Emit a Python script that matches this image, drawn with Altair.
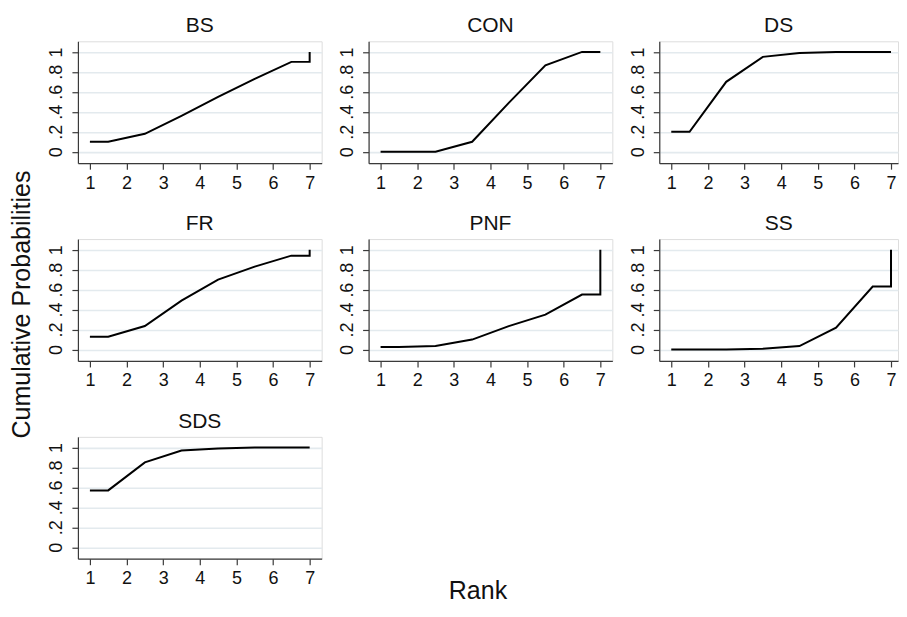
import altair as alt
import pandas as pd

# x positions of the plotted points (Stata-style cumulative rank plot)
RANKS = [1, 1.5, 2.5, 3.5, 4.5, 5.5, 6.5, 7, 7]

# cumulative probabilities
BS = [0.10, 0.10, 0.18, 0.36, 0.55, 0.73, 0.90, 0.90, 1.00]
CON = [0.00, 0.00, 0.00, 0.10, 0.49, 0.865, 1.00, 1.00, 1.00]
DS = [0.20, 0.20, 0.70, 0.95, 0.99, 1.00, 1.00, 1.00, 1.00]
FR = [0.128, 0.128, 0.235, 0.49, 0.70, 0.83, 0.94, 0.94, 1.00]
PNF = [0.025, 0.025, 0.035, 0.10, 0.235, 0.35, 0.55, 0.55, 1.00]
SS = [0.00, 0.00, 0.00, 0.007, 0.035, 0.22, 0.63, 0.63, 1.00]
SDS = [0.57, 0.57, 0.85, 0.97, 0.99, 1.00, 1.00, 1.00, 1.00]

TREATMENTS = ["BS", "CON", "DS", "FR", "PNF", "SS", "SDS"]
SERIES = [BS, CON, DS, FR, PNF, SS, SDS]

X_TICKS = [1, 2, 3, 4, 5, 6, 7]
Y_TICKS = [0, 0.2, 0.4, 0.6, 0.8, 1.0]

Y_TITLE = "Cumulative Probabilities"
X_TITLE = "Rank"

FONT = "Liberation Sans"
PX = 220 / 6          # pixels per rank unit
X0 = 1 - 12 / PX      # left end of x scale
H = 122
Y_DOMAIN = [-0.114, 1.106]
AXIS_COL = "#3a3a3a"
GRID_COL = "#e3eaee"


def panel(name, vals, width, ytitle=False, xtitle=False):
    df = pd.DataFrame({"rank": RANKS, "prob": vals, "order": list(range(len(RANKS)))})

    xkw = dict(values=X_TICKS, format="d", labelFontSize=18, labelFont=FONT,
               labelColor="#111111", labelPadding=5, labelAngle=0,
               tickSize=6, tickColor=AXIS_COL, tickWidth=1.2,
               domainColor=AXIS_COL, domainWidth=1.2, grid=False, title=None)
    if xtitle:
        xkw.update(title=X_TITLE, titleX=400, titleY=40, titleAlign="center",
                   titleBaseline="alphabetic", titleFontSize=25, titleFont=FONT,
                   titleFontWeight="normal", titleColor="#111111")

    ykw = dict(values=Y_TICKS,
               labelExpr="datum.value == 0 ? '0' : (datum.value == 1 ? '1' : '.' + format(datum.value * 10, '.0f'))",
               labelFontSize=18, labelFont=FONT, labelColor="#111111",
               labelAngle=270, labelAlign="center", labelBaseline="bottom",
               labelPadding=6, tickSize=6, tickColor=AXIS_COL, tickWidth=1.2,
               domainColor=AXIS_COL, domainWidth=1.2,
               grid=True, gridColor=GRID_COL, gridWidth=1.6, title=None)
    if ytitle:
        ykw.update(title=Y_TITLE, titleX=-48, titleY=65, titleAngle=270,
                   titleAlign="center", titleBaseline="alphabetic",
                   titleFontSize=25, titleFont=FONT, titleFontWeight="normal",
                   titleColor="#111111")

    line = alt.Chart(df).mark_line(color="black", strokeWidth=2).encode(
        x=alt.X("rank:Q", scale=alt.Scale(domain=[X0, X0 + width / PX], nice=False, zero=False),
                axis=alt.Axis(**xkw)),
        y=alt.Y("prob:Q", scale=alt.Scale(domain=Y_DOMAIN, nice=False, zero=False),
                axis=alt.Axis(**ykw)),
        order=alt.Order("order:Q"),
    )
    head = alt.Chart(pd.DataFrame({"label": [name]})).mark_text(
        fontSize=21, font=FONT, color="#111111", align="center", baseline="alphabetic"
    ).encode(x=alt.value(width / 2), y=alt.value(-9), text="label:N")

    return alt.layer(line, head).properties(width=width, height=H)


panels = []
for i, (name, vals) in enumerate(zip(TREATMENTS, SERIES)):
    col = i % 3
    width = 239 if col == 2 else 244
    panels.append(panel(name, vals, width, ytitle=(name == "FR"), xtitle=(name == "SDS")))

chart = alt.concat(*panels, columns=3, spacing={"row": 76, "column": 47}, bounds="flush").properties(
    padding={"left": 1, "top": 6, "right": 0, "bottom": 0}
).configure_view(stroke=None).configure(font=FONT, background="white")

chart.save("out.html", embed_options={"renderer": "svg", "actions": False})
